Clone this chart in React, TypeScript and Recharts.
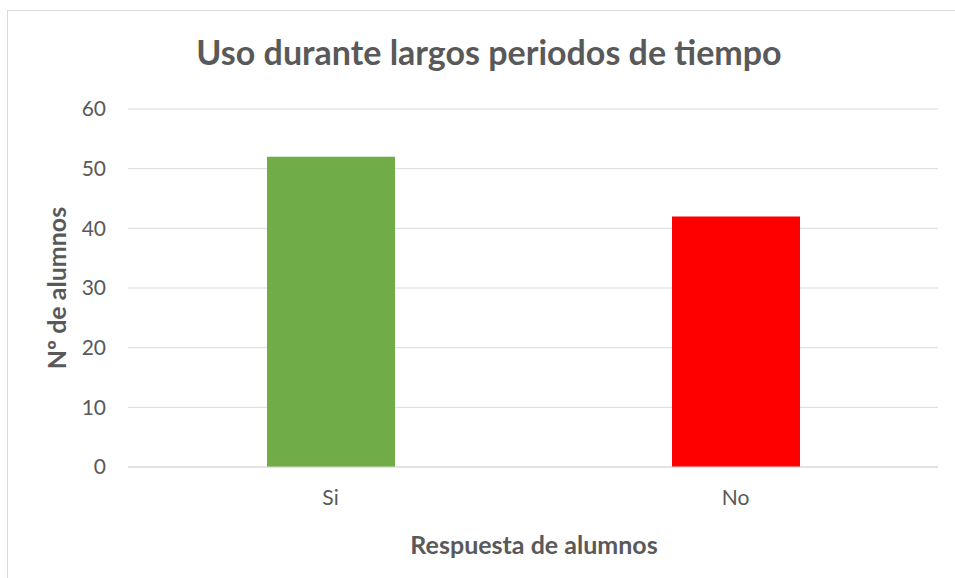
import React from "react";
import { BarChart, Bar, XAxis, YAxis, CartesianGrid, Cell, Customized } from "recharts";

const categories = ["Si", "No"];
const values = [52, 42];
const barColors = ["#70AD47", "#FF0000"];
const yTicks = [0, 10, 20, 30, 40, 50, 60];
const title = "Uso durante largos periodos de tiempo";
const xTitle = "Respuesta de alumnos";
const yTitle = "Nº de alumnos";

const data = categories.map((c, i) => ({ name: c, value: values[i] }));

const FONT = "Lato, 'Open Sans', sans-serif";
const TEXT = "#595959";

const Titles = () => (
  <g>
    <text x={489} y={65} textAnchor="middle" fontFamily={FONT} fontWeight={700} fontSize={34} fill={TEXT}>
      {title}
    </text>
    <text x={534} y={554} textAnchor="middle" fontFamily={FONT} fontWeight={700} fontSize={25} fill={TEXT}>
      {xTitle}
    </text>
    <text
      x={0}
      y={0}
      transform="translate(66,288) rotate(-90)"
      textAnchor="middle"
      fontFamily={FONT}
      fontWeight={700}
      fontSize={25}
      fill={TEXT}
    >
      {yTitle}
    </text>
  </g>
);

export default function App() {
  return (
    <div style={{ position: "absolute", left: 0, top: 0, width: 955, height: 578, overflow: "hidden", background: "#fff" }}>
      <div
        style={{
          position: "absolute",
          left: 7,
          top: 10,
          width: 1000,
          height: 1000,
          border: "1px solid #d9d9d9",
          boxSizing: "border-box",
        }}
      />
      <div style={{ position: "absolute", left: 0, top: 0 }}>
        <BarChart width={955} height={578} data={data} margin={{ top: 109, right: 17, bottom: 0, left: 0 }}>
          <CartesianGrid vertical={false} stroke="#d9d9d9" strokeWidth={1} />
          <XAxis
            dataKey="name"
            height={111}
            axisLine={{ stroke: "#d9d9d9" }}
            tickLine={false}
            tickMargin={17}
            tick={{ fill: TEXT, fontSize: 21, fontFamily: FONT }}
          />
          <YAxis
            width={128}
            domain={[0, 60]}
            ticks={yTicks}
            axisLine={false}
            tickLine={false}
            tickMargin={16}
            tick={{ fill: TEXT, fontSize: 21, fontFamily: FONT }}
          />
          <Bar dataKey="value" barSize={128} isAnimationActive={false}>
            {data.map((d, i) => (
              <Cell key={d.name} fill={barColors[i]} />
            ))}
          </Bar>
          <Customized component={Titles} />
        </BarChart>
      </div>
    </div>
  );
}
